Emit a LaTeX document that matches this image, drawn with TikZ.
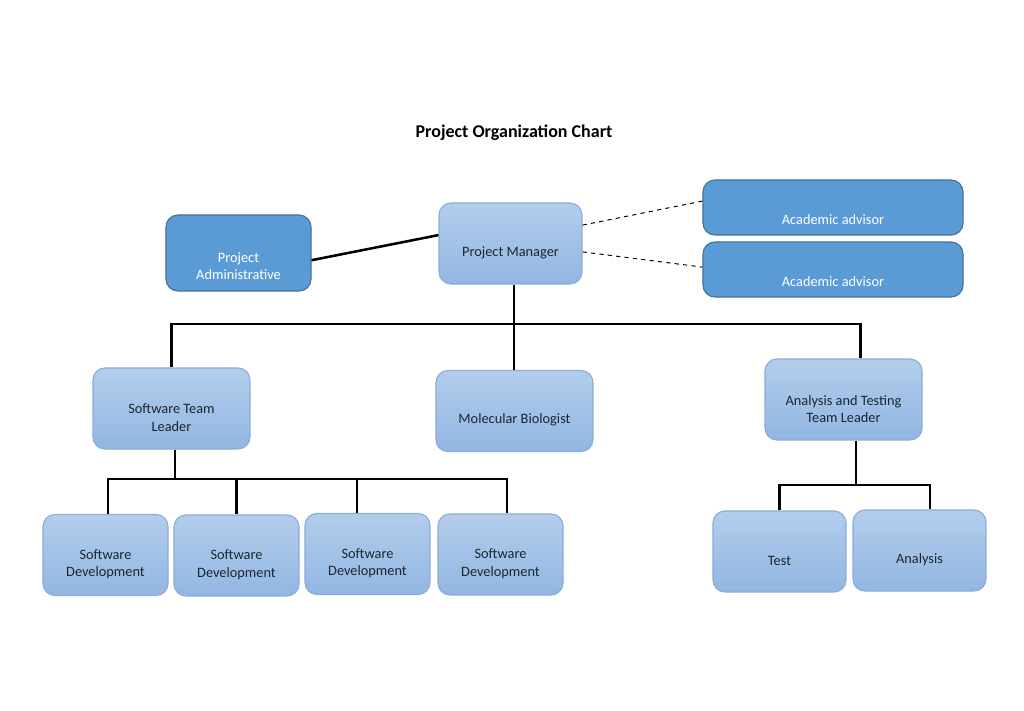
\documentclass[tikz,border=0pt]{standalone}
\usepackage{fontspec}
\setmainfont{Carlito}
\usepackage{xcolor}
\usepackage{tikz}
\usetikzlibrary{positioning}

\definecolor{lighttop}{HTML}{B3CDEC}
\definecolor{lightbot}{HTML}{92B6E2}
\definecolor{lightedge}{HTML}{8BADD8}
\definecolor{darkfill}{HTML}{5B9BD5}
\definecolor{darkedge}{HTML}{41719C}
\definecolor{boxtext}{HTML}{1C2633}

\tikzset{
  boxtxt/.style={align=center, font=\fontsize{10.2}{12.2}\selectfont},
  lightbox/.style={draw=lightedge, line width=0.8pt, rounded corners=0.3cm,
    top color=lighttop, bottom color=lightbot, inner sep=0pt},
  darkbox/.style={draw=darkedge, line width=0.8pt, rounded corners=0.3cm,
    fill=darkfill, inner sep=0pt},
  darktext/.style={label={[boxtxt, text=boxtext, yshift=-0.23cm]center:#1}},
  whitetext/.style={label={[boxtxt, text=white, yshift=-0.32cm]center:#1}},
  advtext/.style={label={[boxtxt, text=white, yshift=-0.31cm]center:#1}},
  leader/.style={lightbox, minimum width=3.925cm, minimum height=2.025cm},
  devbox/.style={lightbox, minimum width=3.125cm, minimum height=2.025cm,
    darktext={Software\\Development}},
  link/.style={line width=1.8pt, black},
  advlink/.style={dashed, line width=0.7pt, black}
}

\begin{document}
\begin{tikzpicture}[x=0.025cm, y=-0.025cm]
\useasboundingbox (0,0) rectangle (1024,710);
\node (title) at (514,133) {\fontsize{12.8}{15}\selectfont\bfseries Project Organization Chart};

% top level
\node [lightbox, minimum width=3.575cm, minimum height=2.025cm, darktext={Project Manager}] (pm) at (510.5,243.5) {};
\node [darkbox, minimum width=3.625cm, minimum height=1.9cm, whitetext={Project\\Administrative}] (pa) at (238.5,253) {};
\node [darkbox, minimum width=6.5cm, minimum height=1.375cm, advtext={Academic advisor}] (aa1) at (833,207.5) {};
\node [darkbox, minimum width=6.5cm, minimum height=1.375cm, advtext={Academic advisor}] (aa2) at (833,269.5) {};

% team leaders
\node [leader, darktext={Software Team\\Leader}] (stl) at (171.5,408.5) {};
\node [leader, darktext={Molecular Biologist}] (mb) at (514.5,411) {};
\node [leader, darktext={Analysis and Testing\\Team Leader}] (attl) at (843.5,399.5) {};

% staff
\node [devbox] (sd1) at (105.5,555) {};
\node [devbox] (sd2) at (236.5,555.5) {};
\node [devbox] (sd3) at (367.5,554) {};
\node [devbox] (sd4) at (500.5,554.5) {};
\node [lightbox, minimum width=3.325cm, minimum height=2.025cm, darktext={Test}] (test) at (779.5,551.5) {};
\node [lightbox, minimum width=3.325cm, minimum height=2.025cm, darktext={Analysis}] (ana) at (919.5,550.5) {};

% bus points
\coordinate (busA) at (514,324);
\coordinate (busB) at (175,479);
\coordinate (busC) at (856,485);

\draw [link] ([yshift=-0.18cm]pa.east) -- ([yshift=0.21cm]pm.west);
\draw [advlink] ([yshift=0.46cm]pm.east) -- ([yshift=0.16cm]aa1.west);
\draw [advlink] ([yshift=-0.21cm]pm.east) -- ([yshift=0.06cm]aa2.west);

\draw [link] (pm.south -| busA) -- (busA);
\draw [link] (stl.north) |- (busA) -| ([xshift=0.43cm]attl.north);
\draw [link] (busA) -- (busA |- mb.north);

\draw [link] (stl.south -| busB) -- (busB);
\draw [link] ([xshift=0.06cm]sd1.north) |- (busB) -| ([xshift=0.16cm]sd4.north);
\draw [link] (sd2.north) -- (sd2.north |- busB);
\draw [link] ([xshift=-0.26cm]sd3.north) -- ([xshift=-0.26cm]sd3.north |- busB);

\draw [link] (attl.south -| busC) -- (busC);
\draw [link] (test.north) |- (busC) -| ([xshift=0.26cm]ana.north);
\end{tikzpicture}
\end{document}
